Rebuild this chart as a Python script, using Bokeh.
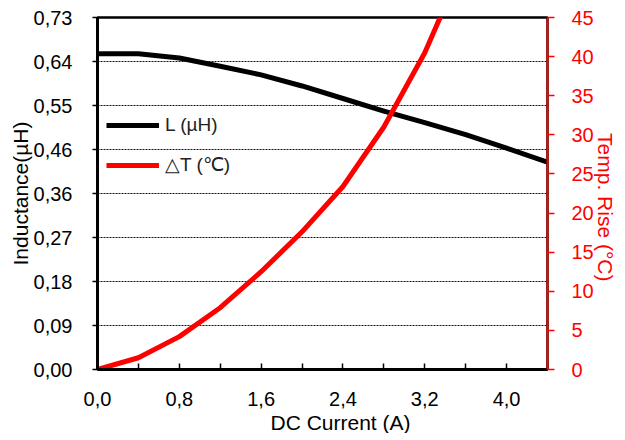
from bokeh.plotting import figure
from bokeh.models import (Range1d, LinearAxis, FixedTicker, CustomJSTickFormatter,
                          Legend, LegendItem, Title)
from bokeh.embed import file_html
from bokeh.resources import INLINE

# ---- data ----
current = [0.0, 0.4, 0.8, 1.2, 1.6, 2.0, 2.4, 2.8, 3.2, 3.6, 4.0, 4.4]
inductance = [0.655, 0.655, 0.646, 0.629, 0.611, 0.588, 0.562, 0.536, 0.512, 0.487, 0.459, 0.430]

current_t = [0.0, 0.4, 0.8, 1.2, 1.6, 2.0, 2.4, 2.8, 3.2, 3.6]
temp_rise = [0.0, 1.5, 4.2, 7.9, 12.5, 17.6, 23.4, 31.0, 40.5, 52.5]

x_major = [0.0, 0.8, 1.6, 2.4, 3.2, 4.0]
x_minor = [0.4, 1.2, 2.0, 2.8, 3.6, 4.4]
x_tick_labels = ["0,0", "0,8", "1,6", "2,4", "3,2", "4,0"]

l_max = 0.73
l_tick_labels = ["0,00", "0,09", "0,18", "0,27", "0,36", "0,46", "0,55", "0,64", "0,73"]
t_ticks = [0, 5, 10, 15, 20, 25, 30, 35, 40, 45]

x_title = "DC Current (A)"
l_title = "Inductance(µH)"
t_title = "Temp. Rise (°C)"

FONT = "Liberation Sans"
RED = "#ff0000"

l_step = l_max / (len(l_tick_labels) - 1)
l_ticks = [i * l_step for i in range(len(l_tick_labels))]

p = figure(width=617, height=432, output_backend="svg", toolbar_location=None,
           x_range=Range1d(0, 4.4), y_range=Range1d(0, l_max),
           frame_width=450, frame_height=352,
           min_border_left=97, min_border_top=17, min_border_right=70, min_border_bottom=63,
           x_axis_location=None, y_axis_location=None)
p.extra_y_ranges = {"temp": Range1d(0, 45)}

p.background_fill_color = "white"
p.border_fill_color = "white"
p.outline_line_color = "black"
p.outline_line_width = 2.5

# x axis
xax = LinearAxis(ticker=FixedTicker(ticks=x_major, minor_ticks=x_minor),
                 formatter=CustomJSTickFormatter(args=dict(vals=x_major, labels=x_tick_labels),
                     code="for (let i=0;i<vals.length;i++){ if (Math.abs(vals[i]-tick)<1e-6) return labels[i]; } return '';"))
xax.axis_line_width = 3
xax.axis_line_color = "black"
xax.major_tick_in = 6
xax.major_tick_out = 0
xax.minor_tick_in = 6
xax.minor_tick_out = 0
xax.major_tick_line_width = 1.5
xax.minor_tick_line_width = 1.5
xax.major_tick_line_color = "black"
xax.minor_tick_line_color = "black"
xax.major_label_standoff = 22
xax.major_label_text_font = FONT
xax.major_label_text_font_size = "20px"
xax.major_label_text_color = "black"
p.add_layout(xax, "below")

# x title, placed a little right of centre as in the original
xt = Title(text=x_title, align="left", offset=173, text_font=FONT, text_font_size="21px",
           text_font_style="normal", text_color="black", standoff=0)
p.add_layout(xt, "below")

# left axis
lax = LinearAxis(ticker=FixedTicker(ticks=l_ticks),
                 formatter=CustomJSTickFormatter(args=dict(labels=l_tick_labels, step=l_step),
                     code="return labels[Math.round(tick/step)];"),
                 axis_label=l_title)
lax.axis_line_width = 3
lax.axis_line_color = "black"
lax.major_tick_in = 0
lax.major_tick_out = 5
lax.major_tick_line_width = 1.5
lax.major_tick_line_color = "black"
lax.minor_tick_line_color = None
lax.major_label_standoff = 20
lax.major_label_text_font = FONT
lax.major_label_text_font_size = "20px"
lax.major_label_text_color = "black"
lax.axis_label_text_font = FONT
lax.axis_label_text_font_size = "21px"
lax.axis_label_text_font_style = "normal"
lax.axis_label_text_color = "black"
lax.axis_label_standoff = -1
p.add_layout(lax, "left")

# right axis
rax = LinearAxis(y_range_name="temp", ticker=FixedTicker(ticks=t_ticks))
rax.axis_line_width = 2
rax.axis_line_color = RED
rax.major_tick_in = 0
rax.major_tick_out = 7
rax.major_tick_line_color = RED
rax.major_tick_line_width = 1.5
rax.minor_tick_line_color = None
rax.major_label_standoff = 17
rax.major_label_text_font = FONT
rax.major_label_text_font_size = "20px"
rax.major_label_text_color = RED
p.add_layout(rax, "right")

# right title, slightly below centre as in the original
rt = Title(text=t_title, align="right", offset=88, text_font=FONT, text_font_size="21px",
           text_font_style="normal", text_color=RED, standoff=-5)
p.add_layout(rt, "right")

# grid
p.xgrid.visible = False
p.ygrid.ticker = FixedTicker(ticks=l_ticks)
p.ygrid.grid_line_color = "#111111"
p.ygrid.grid_line_dash = "2 1"
p.ygrid.grid_line_width = 1

# lines
r_l = p.line(current, inductance, line_color="black", line_width=5, line_join="round")
r_t = p.line(current_t, temp_rise, line_color=RED, line_width=5, line_join="round",
             y_range_name="temp")

legend = Legend(items=[LegendItem(label="L (µH)", renderers=[r_l]),
                       LegendItem(label="△T (℃)", renderers=[r_t])],
                location=(9, 193), orientation="vertical")
legend.background_fill_alpha = 0
legend.border_line_color = None
legend.padding = 0
legend.margin = 0
legend.spacing = 17
legend.glyph_width = 53
legend.glyph_height = 20
legend.label_height = 20
legend.label_standoff = 6
legend.label_text_font = FONT
legend.label_text_font_size = "19px"
legend.label_text_color = "#222222"
p.add_layout(legend, "center")

open("out.html", "w").write(file_html(p, INLINE))
